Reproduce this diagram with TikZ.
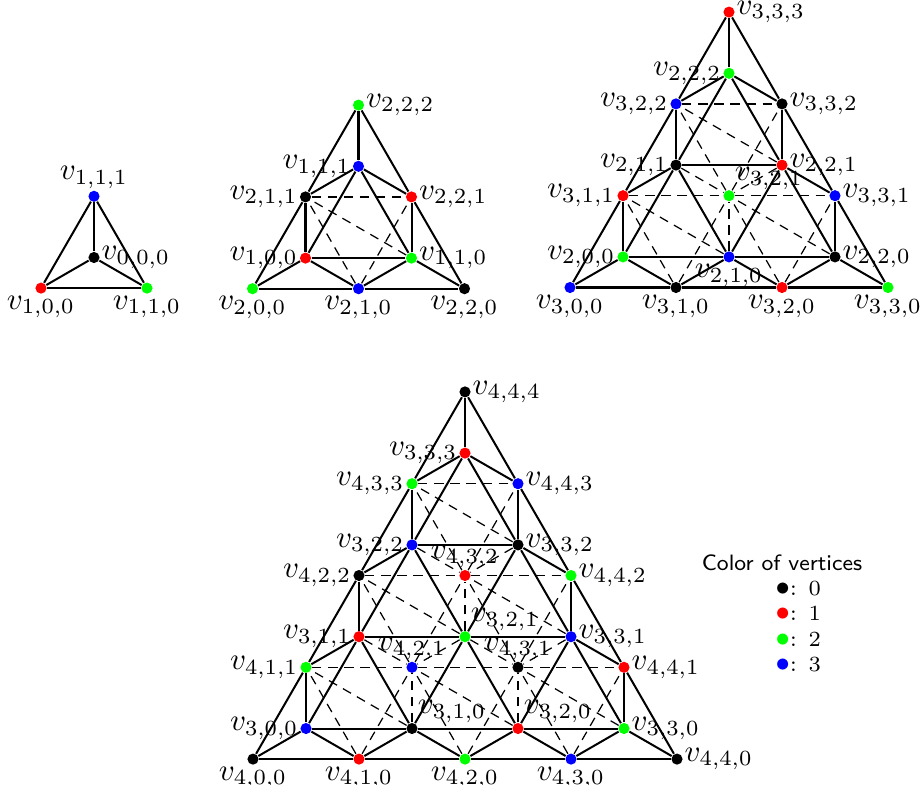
\documentclass[tikz,border=0pt]{standalone}
\usepackage{tikz}
\pgfdeclarelayer{bg}
\pgfsetlayers{bg,main}
\colorlet{vcol0}{black}
\colorlet{vcol1}{red}
\colorlet{vcol2}{green}
\colorlet{vcol3}{blue}
% #1 panel, #2 cx, #3 cy, #4 n, #5 i, #6 j, #7 label position
\newcommand\mkvert[7]{%
  \pgfmathsetmacro\vtxX{#2+106*(-#4/2+#5-#6/2)}%
  \pgfmathsetmacro\vtxY{#3+106*(#4*0.288675-#6*0.866025)}%
  \pgfmathtruncatemacro\vtxC{mod(#4+#5+#6,4)}%
  \node[vtx, fill=vcol\vtxC, label={[lab]#7:$v_{#4,#5,#6}$}] (P#1-#4#5#6) at (\vtxX,\vtxY) {};%
}
\newcommand\legbullet[1]{\smash{\fontsize{9.5}{9.5}\selectfont\textcolor{#1}{$\bullet$}}}
\begin{document}
\begin{tikzpicture}[x=0.3235pt,y=-0.3235pt,
  vtx/.style={circle, inner sep=0pt, minimum size=3.6pt, draw=none},
  lab/.style={inner sep=0.3pt},
  solidedge/.style={line width=0.65pt, black},
  hiddenedge/.style={line width=0.4pt, black, dash pattern=on 3pt off 2.2pt},
  legtxt/.style={inner sep=0pt, font=\fontsize{7.2}{8.6}\selectfont}]
\useasboundingbox (0,0) rectangle (920,785);

% Panel 1
\mkvert{1}{94}{257.5}{0}{0}{0}{right}
\mkvert{1}{94}{257.5}{1}{0}{0}{below}
\mkvert{1}{94}{257.5}{1}{1}{0}{below}
\mkvert{1}{94}{257.5}{1}{1}{1}{above}

% Panel 2
\mkvert{2}{358.5}{227.5}{1}{0}{0}{left}
\mkvert{2}{358.5}{227.5}{1}{1}{0}{right}
\mkvert{2}{358.5}{227.5}{1}{1}{1}{left}
\mkvert{2}{358.5}{227.5}{2}{0}{0}{below}
\mkvert{2}{358.5}{227.5}{2}{1}{0}{below}
\mkvert{2}{358.5}{227.5}{2}{2}{0}{below}
\mkvert{2}{358.5}{227.5}{2}{1}{1}{left}
\mkvert{2}{358.5}{227.5}{2}{2}{1}{right}
\mkvert{2}{358.5}{227.5}{2}{2}{2}{right}

% Panel 3
\mkvert{3}{729}{195.7}{2}{0}{0}{left}
\mkvert{3}{729}{195.7}{2}{1}{0}{below}
\mkvert{3}{729}{195.7}{2}{2}{0}{right}
\mkvert{3}{729}{195.7}{2}{1}{1}{left}
\mkvert{3}{729}{195.7}{2}{2}{1}{right}
\mkvert{3}{729}{195.7}{2}{2}{2}{left}
\mkvert{3}{729}{195.7}{3}{0}{0}{below}
\mkvert{3}{729}{195.7}{3}{1}{0}{below}
\mkvert{3}{729}{195.7}{3}{2}{0}{below}
\mkvert{3}{729}{195.7}{3}{3}{0}{below}
\mkvert{3}{729}{195.7}{3}{1}{1}{left}
\mkvert{3}{729}{195.7}{3}{2}{1}{above right}
\mkvert{3}{729}{195.7}{3}{3}{1}{right}
\mkvert{3}{729}{195.7}{3}{2}{2}{left}
\mkvert{3}{729}{195.7}{3}{3}{2}{right}
\mkvert{3}{729}{195.7}{3}{3}{3}{right}

% Panel 4
\mkvert{4}{465}{636.7}{3}{0}{0}{left}
\mkvert{4}{465}{636.7}{3}{1}{0}{above right}
\mkvert{4}{465}{636.7}{3}{2}{0}{above right}
\mkvert{4}{465}{636.7}{3}{3}{0}{right}
\mkvert{4}{465}{636.7}{3}{1}{1}{left}
\mkvert{4}{465}{636.7}{3}{2}{1}{above right}
\mkvert{4}{465}{636.7}{3}{3}{1}{right}
\mkvert{4}{465}{636.7}{3}{2}{2}{left}
\mkvert{4}{465}{636.7}{3}{3}{2}{right}
\mkvert{4}{465}{636.7}{3}{3}{3}{left}
\mkvert{4}{465}{636.7}{4}{0}{0}{below}
\mkvert{4}{465}{636.7}{4}{1}{0}{below}
\mkvert{4}{465}{636.7}{4}{2}{0}{below}
\mkvert{4}{465}{636.7}{4}{3}{0}{below}
\mkvert{4}{465}{636.7}{4}{4}{0}{right}
\mkvert{4}{465}{636.7}{4}{1}{1}{left}
\mkvert{4}{465}{636.7}{4}{2}{1}{above}
\mkvert{4}{465}{636.7}{4}{3}{1}{above}
\mkvert{4}{465}{636.7}{4}{4}{1}{right}
\mkvert{4}{465}{636.7}{4}{2}{2}{left}
\mkvert{4}{465}{636.7}{4}{3}{2}{above}
\mkvert{4}{465}{636.7}{4}{4}{2}{right}
\mkvert{4}{465}{636.7}{4}{3}{3}{left}
\mkvert{4}{465}{636.7}{4}{4}{3}{right}
\mkvert{4}{465}{636.7}{4}{4}{4}{right}

% Edges
\begin{pgfonlayer}{bg}
\foreach \N in {1,2,3,4}{
  \pgfmathtruncatemacro\M{\N-1}
  \foreach \n in {\M,\N}{
    \foreach \i in {0,...,\n}{
      \foreach \j in {0,...,\i}{
        \pgfmathtruncatemacro\iP{\i+1}
        \pgfmathtruncatemacro\jP{\j+1}
        \ifnum\i<\n\relax
          \ifnum\n=\M\relax\def\est{solidedge}\else\ifnum\j=0\relax\def\est{solidedge}\else\def\est{hiddenedge}\fi\fi
          \draw[\est] (P\N-\n\i\j) -- (P\N-\n\iP\j);
          \ifnum\n=\M\relax\def\est{solidedge}\else\ifnum\i=\j\relax\def\est{solidedge}\else\def\est{hiddenedge}\fi\fi
          \draw[\est] (P\N-\n\i\j) -- (P\N-\n\iP\jP);
        \fi
        \ifnum\j<\i\relax
          \ifnum\n=\M\relax\def\est{solidedge}\else\ifnum\i=\n\relax\def\est{solidedge}\else\def\est{hiddenedge}\fi\fi
          \draw[\est] (P\N-\n\i\j) -- (P\N-\n\i\jP);
        \fi
        \ifnum\n=\M\relax
          \def\est{hiddenedge}\ifnum\j=0\relax\def\est{solidedge}\fi\ifnum\i=\j\relax\def\est{solidedge}\fi
          \draw[\est] (P\N-\n\i\j) -- (P\N-\N\i\j);
          \def\est{hiddenedge}\ifnum\j=0\relax\def\est{solidedge}\fi\ifnum\i=\M\relax\def\est{solidedge}\fi
          \draw[\est] (P\N-\n\i\j) -- (P\N-\N\iP\j);
          \def\est{hiddenedge}\ifnum\i=\M\relax\def\est{solidedge}\fi\ifnum\i=\j\relax\def\est{solidedge}\fi
          \draw[\est] (P\N-\n\i\j) -- (P\N-\N\iP\jP);
          \ifnum\j<\i\relax
            \draw[hiddenedge] (P\N-\n\i\j) -- (P\N-\N\i\jP);
          \fi
        \fi
      }
    }
  }
}
\end{pgfonlayer}

% Legend
\node[legtxt] (legtitle) at (782,563) {\sffamily Color of vertices};
\node[legtxt, anchor=west] (leg0) at (775,589) {\legbullet{vcol0}: $0$};
\node[legtxt, anchor=west] (leg1) at (775,614) {\legbullet{vcol1}: $1$};
\node[legtxt, anchor=west] (leg2) at (775,640) {\legbullet{vcol2}: $2$};
\node[legtxt, anchor=west] (leg3) at (775,665) {\legbullet{vcol3}: $3$};
\end{tikzpicture}
\end{document}
